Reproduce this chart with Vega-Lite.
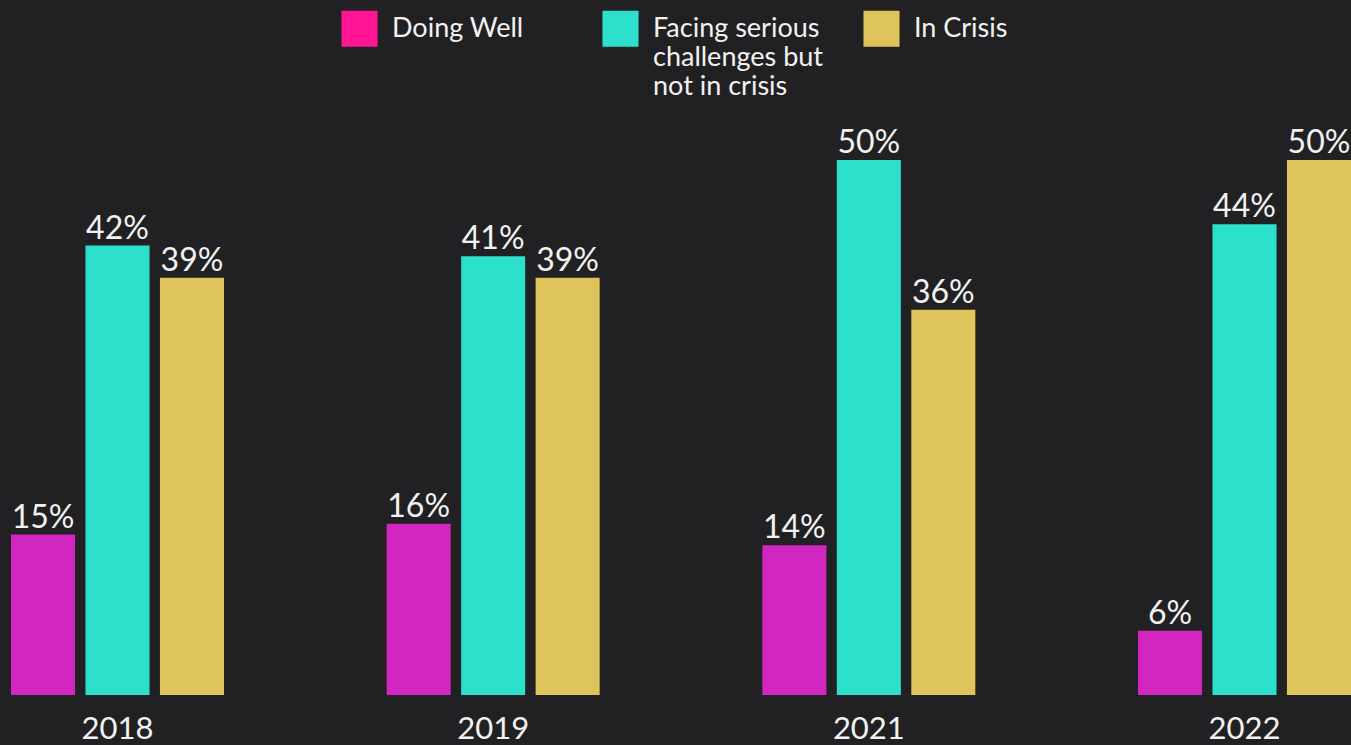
{
  "$schema": "https://vega.github.io/schema/vega-lite/v6.json",
  "width": 1340,
  "height": 535,
  "autosize": {"type": "none"},
  "padding": {"left": 11, "top": 160, "right": 0, "bottom": 50},
  "background": "#212123",
  "config": {
    "view": {"stroke": null},
    "font": "Lato",
    "text": {"font": "Lato"}
  },
  "resolve": {"scale": {"color": "independent"}, "legend": {"color": "independent"}},
  "datasets": {
    "survey": [
      {"year": "2018", "category": "Doing Well", "pct": 0.15},
      {"year": "2018", "category": "Facing serious challenges but not in crisis", "pct": 0.42},
      {"year": "2018", "category": "In Crisis", "pct": 0.39},
      {"year": "2019", "category": "Doing Well", "pct": 0.16},
      {"year": "2019", "category": "Facing serious challenges but not in crisis", "pct": 0.41},
      {"year": "2019", "category": "In Crisis", "pct": 0.39},
      {"year": "2021", "category": "Doing Well", "pct": 0.14},
      {"year": "2021", "category": "Facing serious challenges but not in crisis", "pct": 0.50},
      {"year": "2021", "category": "In Crisis", "pct": 0.36},
      {"year": "2022", "category": "Doing Well", "pct": 0.06},
      {"year": "2022", "category": "Facing serious challenges but not in crisis", "pct": 0.44},
      {"year": "2022", "category": "In Crisis", "pct": 0.50}
    ],
    "legendItems": [
      {"status": "Doing Well"},
      {"status": "Facing serious challenges but not in crisis"},
      {"status": "In Crisis"}
    ]
  },
  "layer": [
    {
      "data": {"name": "survey"},
      "mark": {"type": "bar"},
      "encoding": {
        "x": {
          "field": "year",
          "type": "nominal",
          "scale": {"paddingInner": 0.433, "paddingOuter": 0},
          "axis": {
            "title": null,
            "domain": false,
            "ticks": false,
            "labelAngle": 0,
            "labelFont": "Lato",
            "labelFontSize": 31,
            "labelColor": "#f2f2f2",
            "labelBaseline": "alphabetic",
            "labelPadding": 43
          }
        },
        "xOffset": {
          "field": "category",
          "type": "nominal",
          "scale": {"paddingInner": 0.14, "paddingOuter": 0}
        },
        "y": {
          "field": "pct",
          "type": "quantitative",
          "scale": {"domain": [0, 0.5], "nice": false},
          "axis": null
        },
        "color": {
          "field": "category",
          "type": "nominal",
          "scale": {
            "domain": ["Doing Well", "Facing serious challenges but not in crisis", "In Crisis"],
            "range": ["#d126c0", "#2ce0cc", "#dfc35b"]
          },
          "legend": null
        }
      }
    },
    {
      "data": {"name": "survey"},
      "mark": {
        "type": "text",
        "font": "Lato",
        "fontSize": 32,
        "color": "#f2f2f2",
        "baseline": "alphabetic",
        "align": "center",
        "dy": -7
      },
      "encoding": {
        "x": {"field": "year", "type": "nominal"},
        "xOffset": {"field": "category", "type": "nominal"},
        "y": {"field": "pct", "type": "quantitative"},
        "text": {"field": "pct", "type": "quantitative", "format": ".0%"}
      }
    },
    {
      "data": {"name": "legendItems"},
      "mark": {"type": "bar"},
      "encoding": {
        "y": {"datum": 0, "type": "quantitative"},
        "color": {
          "field": "status",
          "type": "nominal",
          "scale": {
            "domain": ["Doing Well", "Facing serious challenges but not in crisis", "In Crisis"],
            "range": ["#ff1493", "#2ce0cc", "#dfc35b"]
          },
          "legend": {
            "title": null,
            "orient": "none",
            "legendX": 330,
            "legendY": -150,
            "direction": "horizontal",
            "columns": 3,
            "gridAlign": "all",
            "columnPadding": 40,
            "symbolType": "square",
            "symbolSize": 1300,
            "symbolStrokeWidth": 0,
            "symbolOpacity": 1,
            "labelFont": "Lato",
            "labelFontSize": 27,
            "labelColor": "#f2f2f2",
            "labelOffset": 14,
            "labelLimit": 400,
            "labelBaseline": "middle",
            "labelExpr": "datum.label == 'Facing serious challenges but not in crisis' ? ['Facing serious', 'challenges but', 'not in crisis'] : [datum.label, ' ', ' ']"
          }
        }
      }
    }
  ]
}
